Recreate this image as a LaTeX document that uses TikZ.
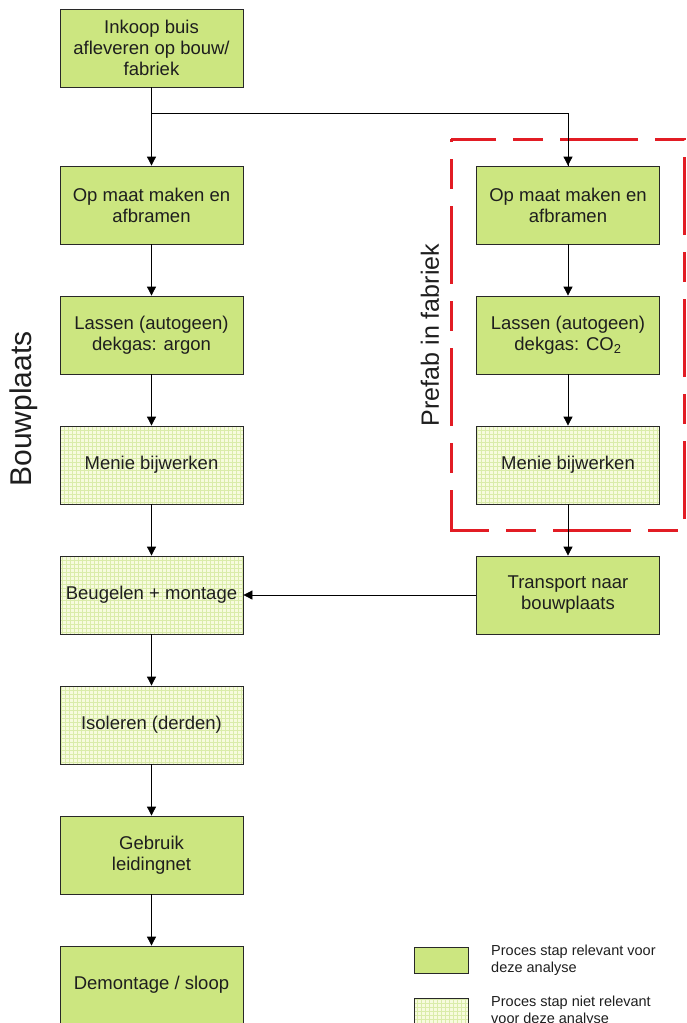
\documentclass[tikz,border=0pt]{standalone}
\usepackage{fontspec}
\setmainfont{Liberation Sans}
\usetikzlibrary{arrows.meta}
\definecolor{relgreen}{RGB}{204,230,128}
\definecolor{lightfill}{RGB}{247,251,222}
\definecolor{gridc}{RGB}{218,236,170}
\definecolor{boxline}{RGB}{40,40,40}
\definecolor{dashred}{RGB}{226,28,36}
\definecolor{txt}{RGB}{30,30,30}
\tikzset{
  proc/.style={draw=boxline, line width=0.8pt, minimum width=183pt, minimum height=78pt,
    inner sep=2pt, align=center, text=txt, font=\fontsize{18.5}{21}\selectfont},
  rel/.style={proc, fill=relgreen},
  gridfill/.style={fill=lightfill, path picture={
      \draw[gridc, line width=0.35pt] (path picture bounding box.south west) grid[step=4pt] (path picture bounding box.north east);}},
  nrel/.style={proc, gridfill},
  conn/.style={line width=0.8pt, black, -{Triangle[length=9pt,width=9pt]}},
  legbox/.style={draw=boxline, line width=0.8pt, minimum width=54pt, minimum height=26pt, inner sep=0pt},
  legtxt/.style={anchor=west, align=left, text=txt, font=\fontsize{14.5}{17.5}\selectfont, inner sep=0pt},
  side/.style={rotate=90, text=txt, inner sep=0pt}
}
\begin{document}
\begin{tikzpicture}[x=1pt,y=-1pt]
\useasboundingbox (0,0) rectangle (686,1023);
% left column
\node[rel]  (l1) at (151.5,48)  {Inkoop buis\\afleveren op bouw/\\fabriek};
\node[rel]  (l2) at (151.5,205) {Op maat maken en\\afbramen};
\node[rel]  (l3) at (151.5,335) {Lassen (autogeen)\\dekgas: argon};
\node[nrel] (l4) at (151.5,465) {Menie bijwerken};
\node[nrel] (l5) at (151.5,595) {Beugelen + montage};
\node[nrel] (l6) at (151.5,725) {Isoleren (derden)};
\node[rel]  (l7) at (151.5,855) {Gebruik\\leidingnet};
\node[rel]  (l8) at (151.5,985) {Demontage / sloop};
% right column
\node[rel]  (r1) at (568,205) {Op maat maken en\\afbramen};
\node[rel]  (r2) at (568,335) {Lassen (autogeen)\\dekgas: CO\textsubscript{2}};
\node[nrel] (r3) at (568,465) {Menie bijwerken};
\node[rel]  (r4) at (568,595) {Transport naar\\bouwplaats};
% dashed frame
\draw[dashred, line width=3pt, dash pattern=on 78pt off 17pt on 30pt off 17pt, dash phase=75pt] (451,139) rectangle (684,530);
% side labels
\node[side, font=\fontsize{25}{30}\selectfont] (pf) at (430,335) {Prefab in fabriek};
\node[side, font=\fontsize{30}{34}\selectfont] (bp) at (24,409) {Bouwplaats};
% connectors
\coordinate (br) at (151.5,113);
\draw[conn] (l1) -- (l2);
\draw[line width=0.8pt] (br) -| (r1.north);
\draw[conn] (r1.north |- br) -- (r1);
\draw[conn] (l2) -- (l3);
\draw[conn] (l3) -- (l4);
\draw[conn] (l4) -- (l5);
\draw[conn] (l5) -- (l6);
\draw[conn] (l6) -- (l7);
\draw[conn] (l7) -- (l8);
\draw[conn] (r1) -- (r2);
\draw[conn] (r2) -- (r3);
\draw[conn] (r3) -- (r4);
\draw[conn] (r4) -- (l5);
% legend
\node[legbox, fill=relgreen] (lg1) at (441,960) {};
\node[legbox, gridfill] (lg2) at (441,1011) {};
\node[legtxt] (lt1) at (491,960) {Proces stap relevant voor\\deze analyse};
\node[legtxt] (lt2) at (491,1011) {Proces stap niet relevant\\voor deze analyse};
\end{tikzpicture}
\end{document}
